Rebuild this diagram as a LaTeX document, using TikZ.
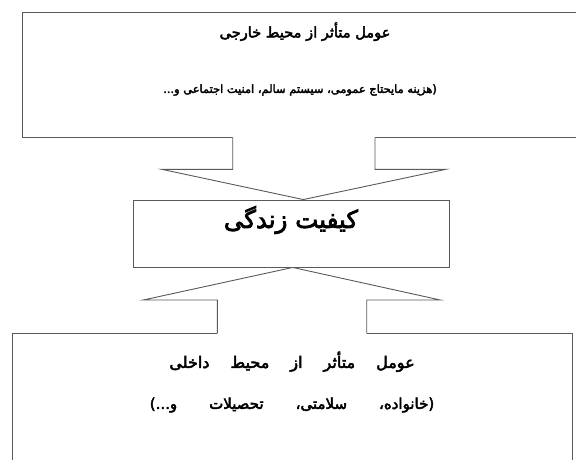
\documentclass[tikz,border=0pt]{standalone}
\usepackage{fontspec}
\TeXXeTstate=1
\newfontfamily\arabicfont[Script=Arabic,FakeBold=3,WordSpace=0.8]{DejaVu Sans}
\newfontfamily\arabicmid[Script=Arabic,FakeBold=3,WordSpace=0.9]{DejaVu Sans}
\newfontfamily\arabicwide[Script=Arabic,FakeBold=3]{DejaVu Sans}
\newcommand\wgap[1]{\hspace{#1}}
\definecolor{linegray}{HTML}{5A5A5A}
\tikzset{
  boxshape/.style={draw=linegray, line width=0.9pt, fill=white, inner sep=0pt},
  arrowline/.style={draw=linegray, line width=0.9pt, line join=miter},
  txt/.style={inner sep=0pt, text=black}
}
\begin{document}
\begin{tikzpicture}[x=1pt,y=1pt]
\useasboundingbox (0,0) rectangle (576,459);
\fill[white] (0,0) rectangle (576,459);
% boxes
\node[boxshape, minimum width=558pt, minimum height=125pt] (top) at (301,384.5) {};
\node[boxshape, minimum width=316.3pt, minimum height=67pt] (mid) at (291.2,225.5) {};
\node[boxshape, minimum width=560pt, minimum height=137pt] (bot) at (292,57.3) {};
% upper arrow
\fill[white] (232.7,0 |- top.south) ++(0,2) -- (232.7,289.7) -- (161.7,289.7) -- (303.3,0 |- mid.north) -- (446,289.7) -- (375,289.7) -- (375,0 |- top.south) -- ++(0,2) -- cycle;
\draw[arrowline] (232.7,0 |- top.south) -- (232.7,289.7) -- (161.7,289.7) -- (303.3,0 |- mid.north) -- (446,289.7) -- (375,289.7) -- (375,0 |- top.south);
% lower arrow
\fill[white] (217.3,0 |- bot.north) ++(0,-2) -- (217.3,159) -- (143.3,159) -- (292.7,0 |- mid.south) -- (440.3,159) -- (366.7,159) -- (366.7,0 |- bot.north) -- ++(0,-2) -- cycle;
\draw[arrowline] (217.3,0 |- bot.north) -- (217.3,159) -- (143.3,159) -- (292.7,0 |- mid.south) -- (440.3,159) -- (366.7,159) -- (366.7,0 |- bot.north);
% texts
\node[txt] (toptitle) at (305,427.3) {\arabicfont\fontsize{14.6}{17}\selectfont\beginR عومل متأثر از محیط خارجی\endR};
\node[txt] (topsub) at (300,369) {\arabicfont\fontsize{11.4}{13}\selectfont\beginR (هزینه مایحتاج عمومی، سیستم سالم، امنیت اجتماعی و...\endR};
\node[txt] (midtitle) at (291,239) {\arabicmid\fontsize{24.5}{28}\selectfont\beginR کیفیت زندگی\endR};
\node[txt] (bottitle) at (292,97.3) {\arabicwide\fontsize{16}{18}\selectfont\beginR عومل\wgap{21pt}متأثر\wgap{21pt}از\wgap{21pt}محیط\wgap{21pt}داخلی\endR};
\node[txt] (botsub) at (292,54) {\arabicwide\fontsize{15}{17}\selectfont\beginR (خانواده،\wgap{32pt}سلامتی،\wgap{32pt}تحصیلات\wgap{32pt}و...)\endR};
\end{tikzpicture}
\end{document}
